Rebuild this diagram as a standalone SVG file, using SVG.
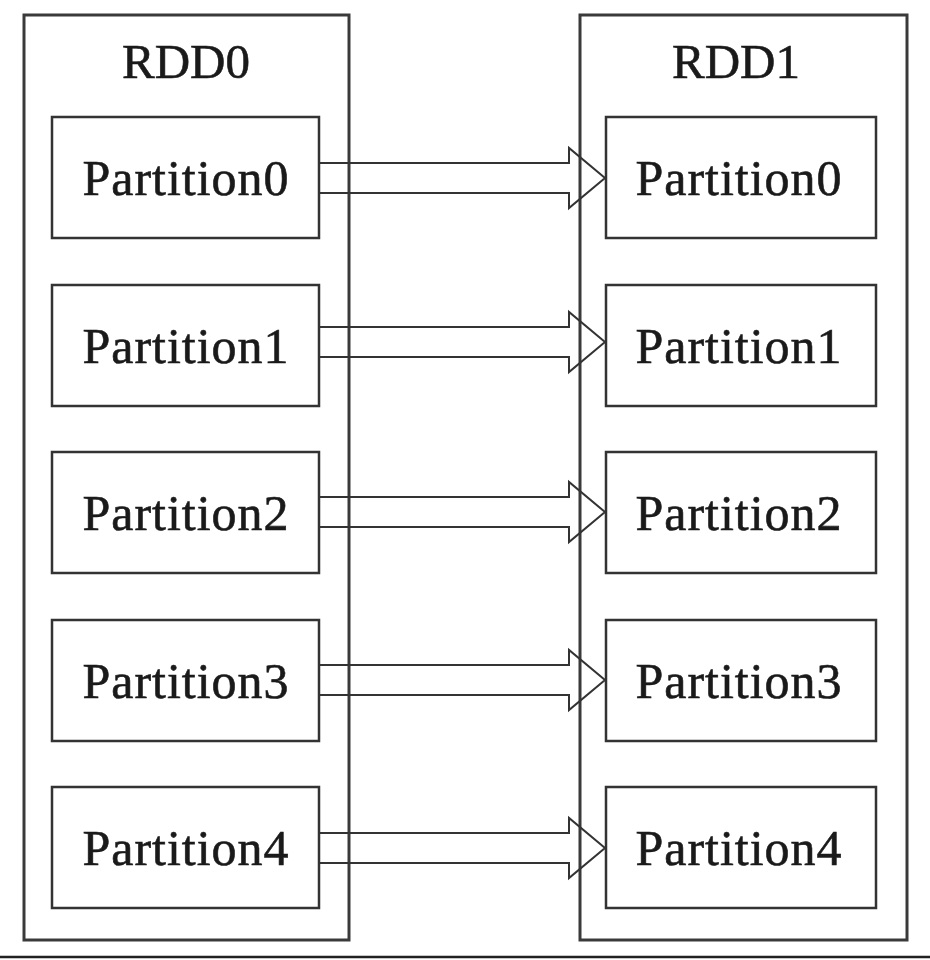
<svg xmlns="http://www.w3.org/2000/svg" width="930" height="960" viewBox="0 0 930 960">
<style>
.outer{fill:none;stroke:#3a3a3a;stroke-width:3}
.inner{fill:none;stroke:#333;stroke-width:2.5}
.arr{fill:none;stroke:#333;stroke-width:2;stroke-linejoin:miter}
.t{font-family:"Liberation Serif","Times New Roman",serif;font-size:50px;letter-spacing:1px;fill:#1a1a1a;stroke:#1a1a1a;stroke-width:0.6;text-anchor:middle}
.h{font-size:49px;letter-spacing:0}
</style>
<rect width="930" height="960" fill="#fff"/>
<g id="rdd0">
<rect class="outer" x="24" y="15" width="325" height="925"/>
<text class="t h" x="186" y="78">RDD0</text>
</g>
<g id="rdd1">
<rect class="outer" x="580" y="15" width="327" height="925"/>
<text class="t h" x="736" y="78">RDD1</text>
</g>
<g id="l0"><rect class="inner" x="52" y="117" width="267" height="121"/><text class="t" x="186" y="195">Partition0</text></g>
<g id="l1"><rect class="inner" x="52" y="285" width="267" height="121"/><text class="t" x="186" y="363">Partition1</text></g>
<g id="l2"><rect class="inner" x="52" y="452" width="267" height="121"/><text class="t" x="186" y="530">Partition2</text></g>
<g id="l3"><rect class="inner" x="52" y="620" width="267" height="121"/><text class="t" x="186" y="698">Partition3</text></g>
<g id="l4"><rect class="inner" x="52" y="787" width="267" height="121"/><text class="t" x="186" y="865">Partition4</text></g>
<g id="r0"><rect class="inner" x="606" y="117" width="270" height="121"/><text class="t" x="739" y="195">Partition0</text></g>
<g id="r1"><rect class="inner" x="606" y="285" width="270" height="121"/><text class="t" x="739" y="363">Partition1</text></g>
<g id="r2"><rect class="inner" x="606" y="452" width="270" height="121"/><text class="t" x="739" y="530">Partition2</text></g>
<g id="r3"><rect class="inner" x="606" y="620" width="270" height="121"/><text class="t" x="739" y="698">Partition3</text></g>
<g id="r4"><rect class="inner" x="606" y="787" width="270" height="121"/><text class="t" x="739" y="865">Partition4</text></g>
<g id="connectors">
<path class="arr" d="M319,163 H569 V148 L605,178 L569,208 V193 H319"/>
<path class="arr" d="M319,327 H569 V312 L605,342 L569,372 V357 H319"/>
<path class="arr" d="M319,497 H569 V482 L605,512 L569,542 V527 H319"/>
<path class="arr" d="M319,665 H569 V650 L605,680 L569,710 V695 H319"/>
<path class="arr" d="M319,833 H569 V818 L605,848 L569,878 V863 H319"/>
</g>
<line x1="0" y1="957" x2="930" y2="957" stroke="#222" stroke-width="2.5"/>
</svg>
